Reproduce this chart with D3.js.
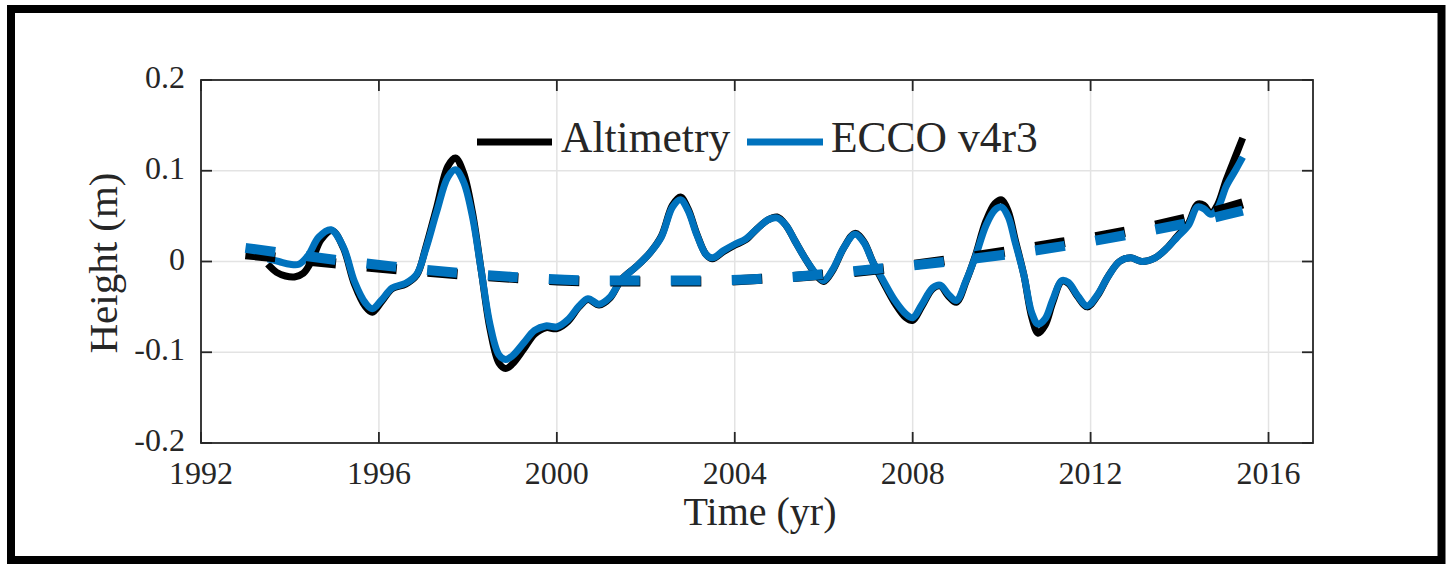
<!DOCTYPE html>
<html>
<head>
<meta charset="utf-8">
<script src="https://cdn.jsdelivr.net/npm/d3@7"></script>
<style>
  html, body { margin: 0; padding: 0; background: #ffffff; }
  svg { display: block; }
  text { font-family: "Liberation Serif", "DejaVu Serif", serif; fill: #262626; }
</style>
</head>
<body>
<svg id="chart" width="1446" height="564"></svg>
<script>
// ---------------- data ----------------
const altYears = [1993.5,1993.7,1993.9,1994.1,1994.3,1994.5,1994.7,1994.95,1995.2,1995.45,1995.7,1995.85,1996.05,1996.3,1996.6,1996.85,1997.05,1997.3,1997.55,1997.72,1997.9,1998.1,1998.3,1998.5,1998.7,1998.85,1999.0,1999.25,1999.5,1999.75,2000.0,2000.25,2000.5,2000.7,2000.95,2001.2,2001.45,2001.8,2002.1,2002.35,2002.6,2002.78,2002.95,2003.15,2003.35,2003.5,2003.75,2004.0,2004.25,2004.5,2004.75,2004.95,2005.15,2005.35,2005.6,2005.85,2006.0,2006.2,2006.45,2006.7,2006.9,2007.1,2007.35,2007.6,2007.85,2008.0,2008.2,2008.45,2008.62,2008.8,2008.98,2009.2,2009.4,2009.65,2009.85,2010.0,2010.15,2010.3,2010.5,2010.68,2010.82,2010.98,2011.15,2011.35,2011.5,2011.7,2011.92,2012.15,2012.4,2012.65,2012.9,2013.15,2013.45,2013.7,2013.95,2014.2,2014.4,2014.55,2014.7,2014.85,2015.05,2015.25,2015.42];
const altValues = [-0.003,-0.012,-0.016,-0.017,-0.013,0.002,0.024,0.034,0.015,-0.025,-0.05,-0.056,-0.045,-0.03,-0.025,-0.015,0.015,0.06,0.105,0.114,0.098,0.055,-0.01,-0.075,-0.112,-0.118,-0.113,-0.097,-0.08,-0.073,-0.074,-0.066,-0.05,-0.042,-0.048,-0.04,-0.02,-0.005,0.01,0.028,0.062,0.071,0.058,0.03,0.008,0.003,0.011,0.018,0.024,0.036,0.046,0.049,0.04,0.023,0.002,-0.016,-0.022,-0.01,0.015,0.031,0.022,0.0,-0.024,-0.046,-0.062,-0.065,-0.05,-0.03,-0.027,-0.038,-0.045,-0.022,0.005,0.045,0.064,0.068,0.055,0.025,-0.015,-0.062,-0.079,-0.07,-0.045,-0.022,-0.024,-0.038,-0.05,-0.038,-0.016,0.0,0.004,0.0,0.004,0.014,0.028,0.042,0.063,0.062,0.053,0.062,0.09,0.115,0.136];

const eccoYears = [1993.5,1993.75,1994.0,1994.2,1994.4,1994.65,1994.92,1995.2,1995.45,1995.7,1995.85,1996.05,1996.3,1996.6,1996.85,1997.05,1997.3,1997.55,1997.72,1997.9,1998.1,1998.3,1998.5,1998.7,1998.85,1999.0,1999.25,1999.5,1999.75,2000.0,2000.25,2000.5,2000.7,2000.95,2001.2,2001.45,2001.8,2002.1,2002.35,2002.6,2002.78,2002.95,2003.15,2003.35,2003.5,2003.75,2004.0,2004.25,2004.5,2004.75,2004.95,2005.15,2005.35,2005.6,2005.85,2006.0,2006.2,2006.45,2006.7,2006.9,2007.1,2007.35,2007.6,2007.85,2008.0,2008.2,2008.45,2008.62,2008.8,2008.98,2009.2,2009.4,2009.65,2009.85,2010.0,2010.15,2010.3,2010.5,2010.68,2010.82,2010.98,2011.15,2011.35,2011.5,2011.7,2011.92,2012.15,2012.4,2012.65,2012.9,2013.15,2013.45,2013.7,2013.95,2014.2,2014.4,2014.55,2014.7,2014.85,2015.05,2015.25,2015.42];
const eccoValues = [0.003,0.0,-0.003,-0.003,0.006,0.027,0.035,0.016,-0.022,-0.046,-0.052,-0.043,-0.029,-0.024,-0.014,0.013,0.055,0.093,0.101,0.088,0.05,-0.01,-0.07,-0.103,-0.108,-0.104,-0.09,-0.076,-0.071,-0.072,-0.064,-0.049,-0.041,-0.047,-0.039,-0.02,-0.005,0.01,0.027,0.06,0.068,0.056,0.029,0.008,0.004,0.012,0.019,0.025,0.036,0.046,0.048,0.04,0.023,0.002,-0.015,-0.021,-0.009,0.015,0.03,0.021,0.0,-0.022,-0.043,-0.058,-0.062,-0.048,-0.029,-0.026,-0.036,-0.043,-0.021,0.004,0.04,0.057,0.06,0.049,0.022,-0.015,-0.057,-0.069,-0.063,-0.042,-0.021,-0.023,-0.037,-0.049,-0.037,-0.016,0.0,0.004,0.0,0.004,0.014,0.027,0.04,0.06,0.058,0.052,0.058,0.083,0.1,0.115];

const trendYears = [1993,1995,1997,1999,2001,2003,2005,2007,2009,2011,2013,2015,2015.42];
const altTrend   = [0.008,-0.002,-0.011,-0.018,-0.022,-0.022,-0.018,-0.010,0.003,0.018,0.035,0.058,0.064];
const eccoTrend  = [0.015,0.002,-0.009,-0.017,-0.021,-0.021,-0.018,-0.009,0.001,0.014,0.031,0.051,0.056];

const xTicks = [1992,1996,2000,2004,2008,2012,2016];
const yTicks = [-0.2,-0.1,0,0.1,0.2];
const yTickLabels = ["-0.2","-0.1","0","0.1","0.2"];
const seriesNames = ["Altimetry","ECCO v4r3"];
const seriesColors = ["#000000","#0072BD"];

// ---------------- layout ----------------
const svg = d3.select("#chart");
const plot = {left: 201, right: 1313, top: 80, bottom: 443};
const x = d3.scaleLinear().domain([1992, 2017]).range([plot.left, plot.right]);
const y = d3.scaleLinear().domain([-0.2, 0.2]).range([plot.bottom, plot.top]);

svg.append("rect").attr("width",1446).attr("height",564).attr("fill","#fff");

// grid
const grid = svg.append("g");
grid.selectAll("line.gx").data(xTicks.filter(t => t > 1992)).enter().append("line")
  .attr("x1", d => x(d)).attr("x2", d => x(d))
  .attr("y1", plot.top).attr("y2", plot.bottom)
  .attr("stroke", "#e3e3e3").attr("stroke-width", 1.5);
grid.selectAll("line.gy").data(yTicks.filter(t => t > -0.2 && t < 0.2)).enter().append("line")
  .attr("y1", d => y(d)).attr("y2", d => y(d))
  .attr("x1", plot.left).attr("x2", plot.right)
  .attr("stroke", "#e3e3e3").attr("stroke-width", 1.5);

// lines
const line = d3.line().curve(d3.curveCatmullRom.alpha(0.5)).x(d => x(d[0])).y(d => y(d[1]));
const lineLin = d3.line().curve(d3.curveMonotoneX).x(d => x(d[0])).y(d => y(d[1]));
const zip = (a, b) => a.map((v, i) => [v, b[i]]);

svg.append("path").attr("d", line(zip(altYears, altValues)))
  .attr("fill","none").attr("stroke", seriesColors[0]).attr("stroke-width", 7).attr("stroke-linejoin","round");
svg.append("path").attr("d", line(zip(eccoYears, eccoValues)))
  .attr("fill","none").attr("stroke", seriesColors[1]).attr("stroke-width", 7).attr("stroke-linejoin","round");
svg.append("path").attr("d", lineLin(zip(trendYears, altTrend)))
  .attr("fill","none").attr("stroke", seriesColors[0]).attr("stroke-width", 10)
  .attr("stroke-dasharray","30,31");
svg.append("path").attr("d", lineLin(zip(trendYears, eccoTrend)))
  .attr("fill","none").attr("stroke", seriesColors[1]).attr("stroke-width", 10)
  .attr("stroke-dasharray","30,31");

// axes box + ticks (inward, all four sides)
const axisColor = "#262626";
const tickLen = 11;
const axes = svg.append("g");
axes.append("rect").attr("x", plot.left).attr("y", plot.top)
  .attr("width", plot.right - plot.left).attr("height", plot.bottom - plot.top)
  .attr("fill","none").attr("stroke", axisColor).attr("stroke-width", 1.8);
xTicks.forEach(t => {
  axes.append("line").attr("x1", x(t)).attr("x2", x(t)).attr("y1", plot.bottom).attr("y2", plot.bottom - tickLen)
    .attr("stroke", axisColor).attr("stroke-width", 1.8);
  axes.append("line").attr("x1", x(t)).attr("x2", x(t)).attr("y1", plot.top).attr("y2", plot.top + tickLen)
    .attr("stroke", axisColor).attr("stroke-width", 1.8);
});
yTicks.forEach(t => {
  axes.append("line").attr("y1", y(t)).attr("y2", y(t)).attr("x1", plot.left).attr("x2", plot.left + tickLen)
    .attr("stroke", axisColor).attr("stroke-width", 1.8);
  axes.append("line").attr("y1", y(t)).attr("y2", y(t)).attr("x1", plot.right).attr("x2", plot.right - tickLen)
    .attr("stroke", axisColor).attr("stroke-width", 1.8);
});

// tick labels
svg.selectAll("text.xt").data(xTicks).enter().append("text")
  .attr("x", d => x(d)).attr("y", 484).attr("text-anchor","middle")
  .attr("font-size", 32).text(d => d);
svg.selectAll("text.yt").data(yTicks).enter().append("text")
  .attr("x", 185).attr("y", (d) => y(d) + 8).attr("text-anchor","end")
  .attr("font-size", 32).text((d, i) => yTickLabels[i]);

// axis labels
svg.append("text").attr("x", 760).attr("y", 525).attr("text-anchor","middle")
  .attr("font-size", 40).text("Time (yr)");
svg.append("text").attr("transform", "translate(117,263) rotate(-90)").attr("text-anchor","middle")
  .attr("font-size", 41).text("Height (m)");

// legend
const legend = svg.append("g");
const legItems = [
  {x1: 477, x2: 552, tx: 561},
  {x1: 747, x2: 823, tx: 831}
];
legItems.forEach((it, i) => {
  legend.append("line").attr("x1", it.x1).attr("x2", it.x2).attr("y1", 142).attr("y2", 142)
    .attr("stroke", seriesColors[i]).attr("stroke-width", 7);
  legend.append("text").attr("x", it.tx).attr("y", 152).attr("font-size", 43.5)
    .attr("fill", "#000").text(seriesNames[i]);
});

// outer frame
svg.append("rect").attr("x", 11).attr("y", 9).attr("width", 1430.5).attr("height", 551)
  .attr("fill","none").attr("stroke","#000").attr("stroke-width", 8);
</script>
</body>
</html>
